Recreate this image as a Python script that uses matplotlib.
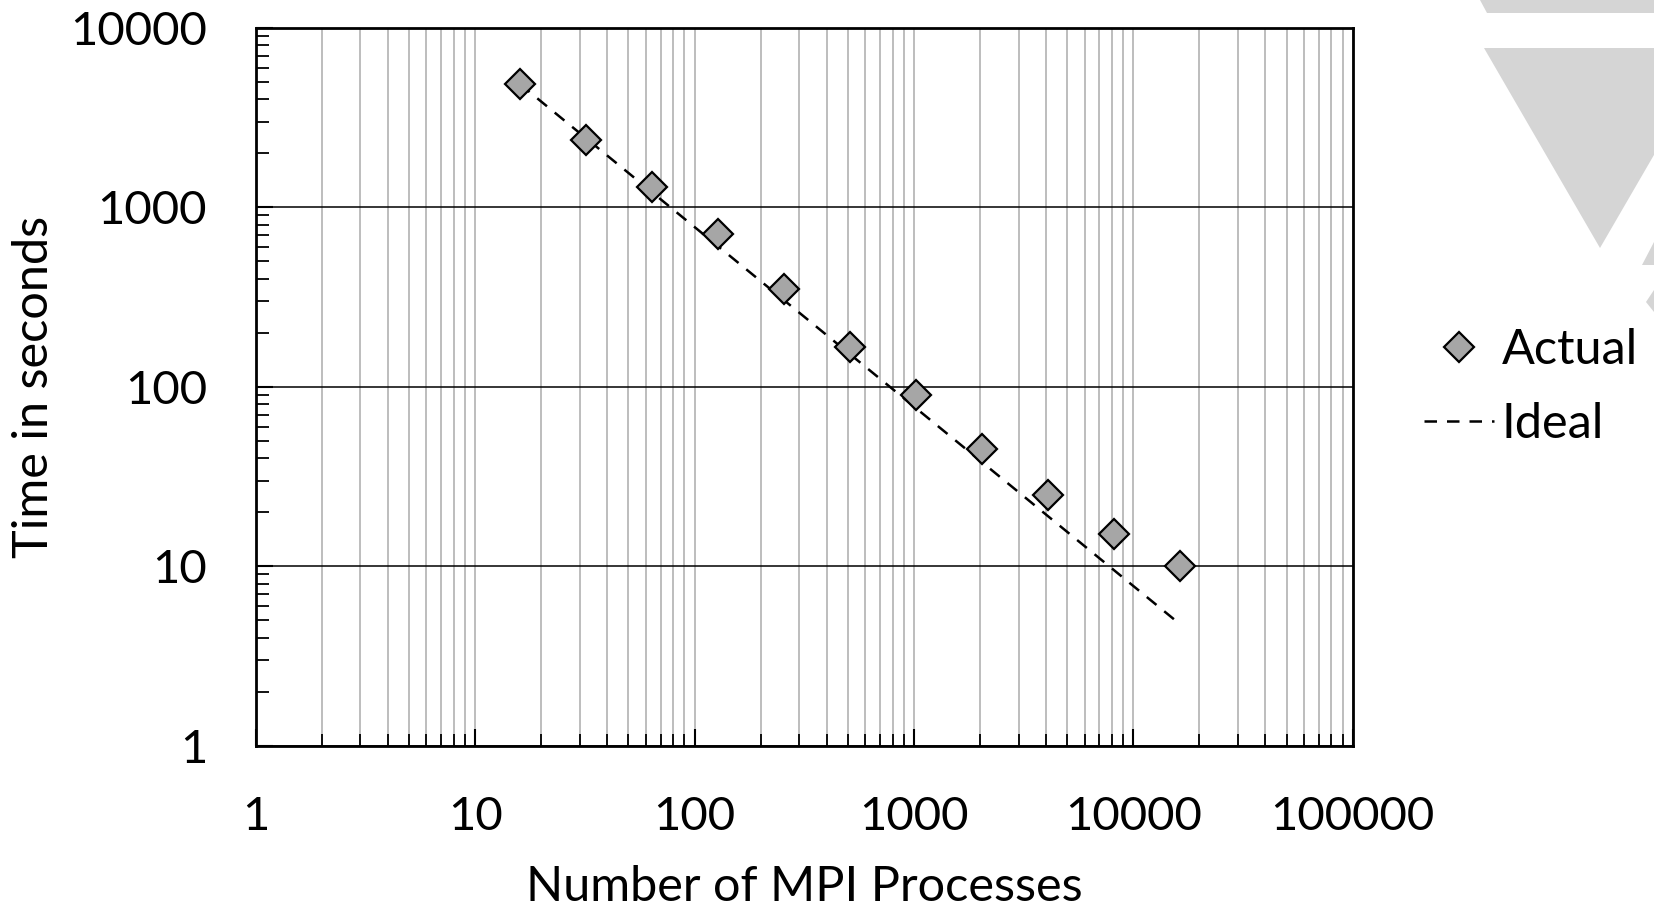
import numpy as np
import matplotlib
matplotlib.use('Agg')
import matplotlib.pyplot as plt
from matplotlib import ticker
from matplotlib.patches import Polygon

procs = [16, 32, 64, 128, 256, 512, 1024, 2048, 4096, 8192, 16384]
actual = [4850, 2360, 1290, 705, 350, 167, 90, 45, 25, 15.2, 10.0]
ideal = [actual[0] * procs[0] / p for p in procs]

xticks = [1, 10, 100, 1000, 10000, 100000]
yticks = [1, 10, 100, 1000, 10000]

plt.rcParams['font.family'] = ['Lato', 'DejaVu Sans']
plt.rcParams['font.size'] = 35

W, H = 1654, 909
fig = plt.figure(figsize=(W / 100., H / 100.), dpi=100)
ax = fig.add_axes([255.7 / W, 1 - 745.7 / H, (1352.7 - 255.7) / W, (745.7 - 27.7) / H])

# grey decoration in the top right corner (figure pixels)
def px(pts):
    return [(x / W, 1 - y / H) for x, y in pts]

deco = '#d5d5d5'
for pts in [[(1480, 0), (1654, 0), (1654, 13), (1487, 13)],
            [(1484, 48), (1716, 48), (1600, 248)],
            [(1642, 265), (1654, 242), (1654, 265)],
            [(1646, 302), (1654, 290), (1654, 312)]]:
    fig.add_artist(Polygon(px(pts), closed=True, transform=fig.transFigure,
                           facecolor=deco, edgecolor='none', zorder=0))

ax.set_xscale('log')
ax.set_yscale('log')
ax.set_xlim(1, 100000)
ax.set_ylim(1, 10000)

ax.xaxis.set_major_locator(ticker.FixedLocator(xticks))
ax.yaxis.set_major_locator(ticker.FixedLocator(yticks))
ax.xaxis.set_major_formatter(ticker.FixedFormatter([str(t) for t in xticks]))
ax.yaxis.set_major_formatter(ticker.FixedFormatter([str(t) for t in yticks]))
ax.xaxis.set_minor_locator(ticker.LogLocator(base=10, subs=np.arange(2, 10)))
ax.yaxis.set_minor_locator(ticker.LogLocator(base=10, subs=np.arange(2, 10)))
ax.xaxis.set_minor_formatter(ticker.NullFormatter())
ax.yaxis.set_minor_formatter(ticker.NullFormatter())

ax.tick_params(which='major', direction='in', length=12, width=1.5,
               labelsize=34)
ax.tick_params(which='minor', direction='in', length=9, width=1.3)
ax.tick_params(axis='x', which='major', pad=36)
ax.tick_params(axis='y', which='major', pad=35)

ax.grid(axis='x', which='both', color='#bdbdbd', linewidth=1.4, zorder=0)
ax.grid(axis='y', which='major', color='black', linewidth=1.1, zorder=0)
ax.set_axisbelow(True)

for s in ax.spines.values():
    s.set_linewidth(2)

ax.plot(procs, actual, linestyle='none', marker='D', markersize=15.5,
        markerfacecolor='#a6a6a6', markeredgecolor='black', markeredgewidth=1.6,
        label='Actual', zorder=4)
ax.plot(procs, ideal, color='black', linewidth=1.8, dashes=(5, 4),
        label='Ideal', zorder=3)

ax.set_xlabel('Number of MPI Processes', labelpad=20)
ax.set_ylabel('Time in seconds', labelpad=10)

ax.legend(loc='center left', bbox_to_anchor=(1424 / W, 1 - 387 / H),
          bbox_transform=fig.transFigure, frameon=False,
          handlelength=1.45, handletextpad=0.15, labelspacing=0.6,
          borderaxespad=0, borderpad=0)

fig.savefig('out.png', dpi=100)
